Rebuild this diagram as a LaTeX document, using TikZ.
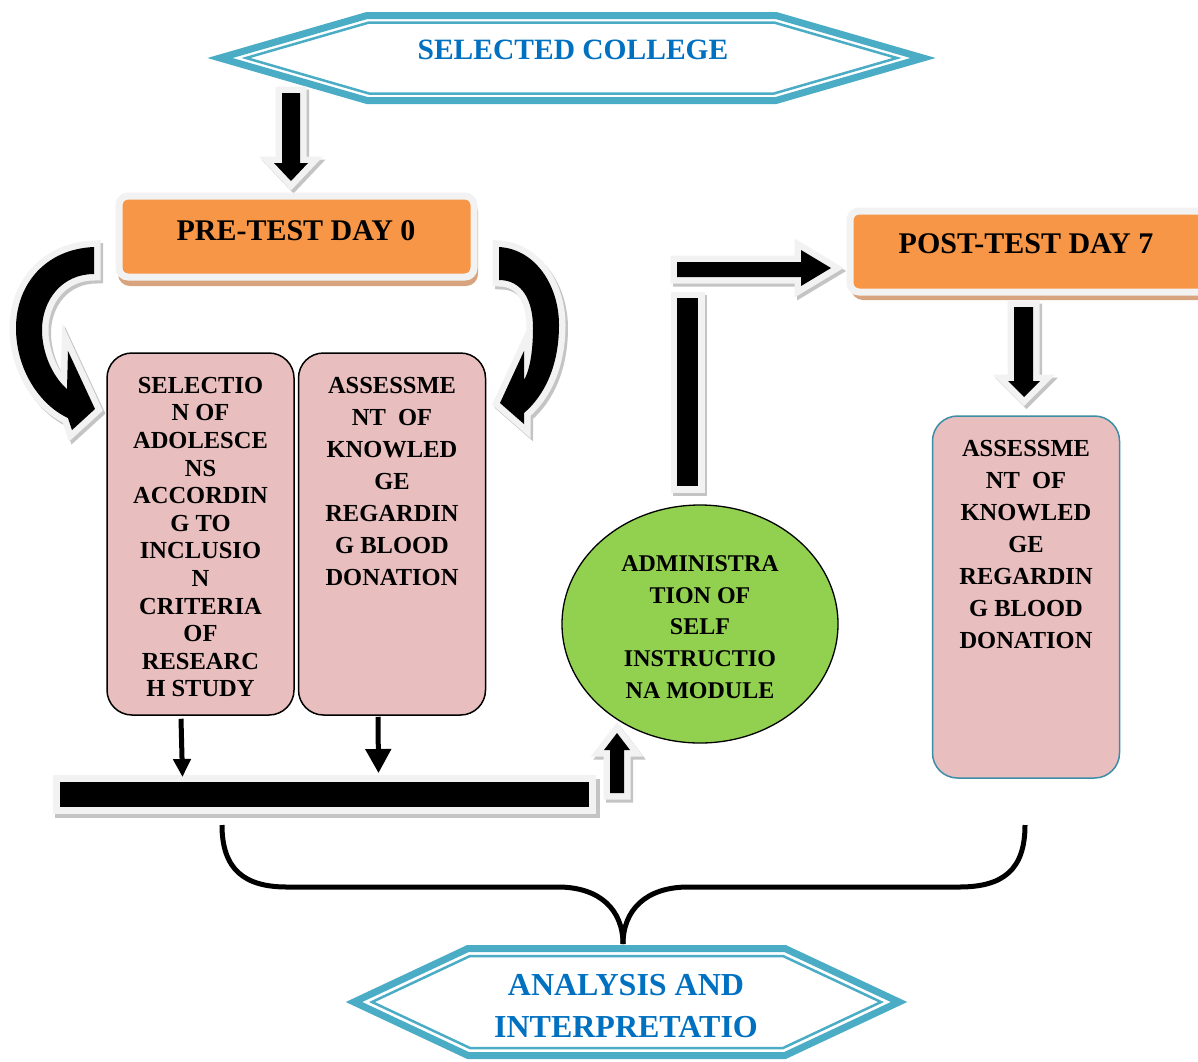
\documentclass[tikz,border=0pt]{standalone}
\usepackage{fontspec}
\setmainfont{Liberation Serif}
\usetikzlibrary{shapes.geometric,arrows.meta}
\definecolor{tealA}{HTML}{4BACC6}
\definecolor{blueT}{HTML}{0070C0}
\definecolor{orangeF}{HTML}{F79646}
\definecolor{tanS}{HTML}{D8A47F}
\definecolor{pinkF}{HTML}{E9BEBE}
\definecolor{greenF}{HTML}{92D050}
\definecolor{rimC}{HTML}{F2F2F2}
\definecolor{shadeC}{HTML}{C4C4C4}
\definecolor{boxblue}{HTML}{3C8DA8}
\tikzset{
  blockarrow/.style={fill=black, line join=miter,
    preaction={draw=shadeC, fill=shadeC, line width=13pt, transform canvas={shift={(2.5pt,-3pt)}}},
    preaction={draw=rimC, fill=rimC, line width=13pt}},
  hexouter/.style={draw=tealA, line width=7pt, line join=miter},
  hexinner/.style={draw=tealA, line width=2.5pt, line join=miter},
  pinkbox/.style={draw=black, line width=1.5pt, fill=pinkF, rounded corners=25pt, minimum width=187pt, minimum height=362pt, inner sep=0pt},
  boxtext/.style={font={\bfseries\fontsize{24.5}{32}\selectfont}, align=center, inner sep=0pt},
  titletext/.style={text=blueT, align=center, inner sep=0pt},
  ttext/.style={font={\bfseries\fontsize{30}{32}\selectfont}, inner sep=0pt},
  thinarrow/.style={line width=5pt},
}
\begin{document}
\begin{tikzpicture}[x=1pt,y=-1pt]
\useasboundingbox (0,0) rectangle (1198,1061);
\clip (0,0) rectangle (1198,1061);

% ---------- top hexagon ----------
\draw[hexouter] (220,58) -- (367,15.5) -- (776,15.5) -- (923,58) -- (776,100.5) -- (367,100.5) -- cycle;
\draw[hexinner] (246,58) -- (369,22.5) -- (774,22.5) -- (897,58) -- (774,93.5) -- (369,93.5) -- cycle;
\node[titletext, font={\bfseries\fontsize{29.5}{32}\selectfont}] (sc) at (573,50) {SELECTED COLLEGE};

% ---------- arrow to pre-test ----------
\path[blockarrow] (282,93) -- (300,93) -- (300,163) -- (308,163) -- (291,181) -- (274,163) -- (282,163) -- cycle;

% ---------- pre-test box ----------
\fill[tanS, rounded corners=12pt] (118,200) rectangle (478,286);
\draw[rimC, line width=7pt, fill=orangeF, rounded corners=9pt] (119,196) rectangle (474,277);
\node[ttext] (pre) at (296,231) {PRE-TEST DAY 0};

% ---------- curved arrows ----------
\path[blockarrow] (94,247) .. controls (45,249) and (16,285) .. (16,328)
  .. controls (16,370) and (40,405) .. (68,418) -- (72,430) -- (95,409) -- (68,351) -- (67,389)
  .. controls (52,376) and (42,352) .. (42,330) .. controls (42,300) and (62,274) .. (94,274) -- cycle;
\path[blockarrow] (499,247) .. controls (535,249) and (559,285) .. (559,325)
  .. controls (559,365) and (545,395) .. (524,413) -- (524,424) -- (500,403) -- (524,351) -- (524,380)
  .. controls (530,370) and (533,350) .. (533,328) .. controls (533,300) and (522,280) .. (499,280) -- cycle;

% ---------- pink boxes ----------
\node[pinkbox] (sel) at (200.5,534) {};
\node[boxtext, font={\bfseries\fontsize{24.5}{27.6}\selectfont}] (selt) at (200.5,537) {SELECTIO\\N OF\\ADOLESCE\\NS\\ACCORDIN\\G TO\\INCLUSIO\\N\\CRITERIA\\OF\\RESEARC\\H STUDY};
\node[pinkbox] (ass) at (392,534) {};
\node[boxtext] (asst) at (392,481) {ASSESSME\\NT\ \ OF\\KNOWLED\\GE\\REGARDIN\\G BLOOD\\DONATION};

% ---------- bar ----------
\fill[shadeC] (55,779) rectangle (600,818);
\node[draw=rimC, line width=7pt, fill=black, minimum width=536pt, minimum height=32pt, inner sep=0pt] (bar) at (324.5,794.5) {};
\draw[thinarrow, -{Triangle[length=18pt,width=17pt]}] ([xshift=-19.5pt,yshift=-3pt]sel.south) -- ([xshift=-142pt,yshift=-2pt]bar.north);
\draw[thinarrow, -{Triangle[length=24pt,width=25pt]}] ([xshift=-14pt,yshift=-1pt]ass.south) -- ([xshift=54pt,yshift=2pt]bar.north);

% ---------- up arrow to green ----------
\path[blockarrow] (610,793) -- (624,793) -- (624,750) -- (630,750) -- (617,733) -- (604,750) -- (610,750) -- cycle;

% ---------- green ellipse ----------
\node[ellipse, draw=black, line width=1.3pt, fill=greenF, minimum width=276pt, minimum height=238pt, inner sep=0pt] (adm) at (700,624) {};
\node[boxtext, font={\bfseries\fontsize{24}{31.75}\selectfont}] (admt) at (700,627) {ADMINISTRA\\TION OF\\SELF\\INSTRUCTIO\\NA MODULE};

% ---------- vertical bar and arrow to post-test ----------
\path[blockarrow] (677,298) -- (698,298) -- (698,486) -- (677,486) -- cycle;
\path[blockarrow] (677,262) -- (801,262) -- (801,250) -- (831,268) -- (801,286) -- (801,277) -- (677,277) -- cycle;

% ---------- post-test box ----------
\fill[tanS, rounded corners=12pt] (851,216) rectangle (1215,300);
\draw[rimC, line width=7pt, fill=orangeF, rounded corners=9pt] (850,211) rectangle (1215,292);
\node[ttext] (post) at (1026,244) {POST-TEST DAY 7};

% ---------- down arrow to right box ----------
\path[blockarrow] (1014,307) -- (1033,307) -- (1033,381) -- (1040,381) -- (1024,397) -- (1008,381) -- (1014,381) -- cycle;

% ---------- right box ----------
\node[pinkbox, draw=boxblue] (ass2) at (1026,597) {};
\node[boxtext] (ass2t) at (1026,544.5) {ASSESSME\\NT\ \ OF\\KNOWLED\\GE\\REGARDIN\\G BLOOD\\DONATION};

% ---------- brace ----------
\coordinate (bl) at (222,825);
\coordinate (br) at (1025,825);
\coordinate (bm) at (623,944);
\draw[line width=5pt] (bl) .. controls (222,870) and (245,887) .. (287,887) -- (558,887)
  .. controls (600,887) and (623,910) .. (bm);
\draw[line width=5pt] (bm) .. controls (623,910) and (646,887) .. (688,887) -- (959,887)
  .. controls (1003,887) and (1025,870) .. (br);

% ---------- bottom hexagon ----------
\draw[hexouter] (354,1002) -- (468,948.5) -- (785,948.5) -- (899,1002) -- (785,1055.5) -- (468,1055.5) -- cycle;
\draw[hexinner] (372,1002) -- (470,956) -- (783,956) -- (881,1002) -- (783,1048) -- (470,1048) -- cycle;
\node[titletext, font={\bfseries\fontsize{32}{42}\selectfont}] (ai) at (626,1006) {ANALYSIS AND\\INTERPRETATIO};
\end{tikzpicture}
\end{document}
